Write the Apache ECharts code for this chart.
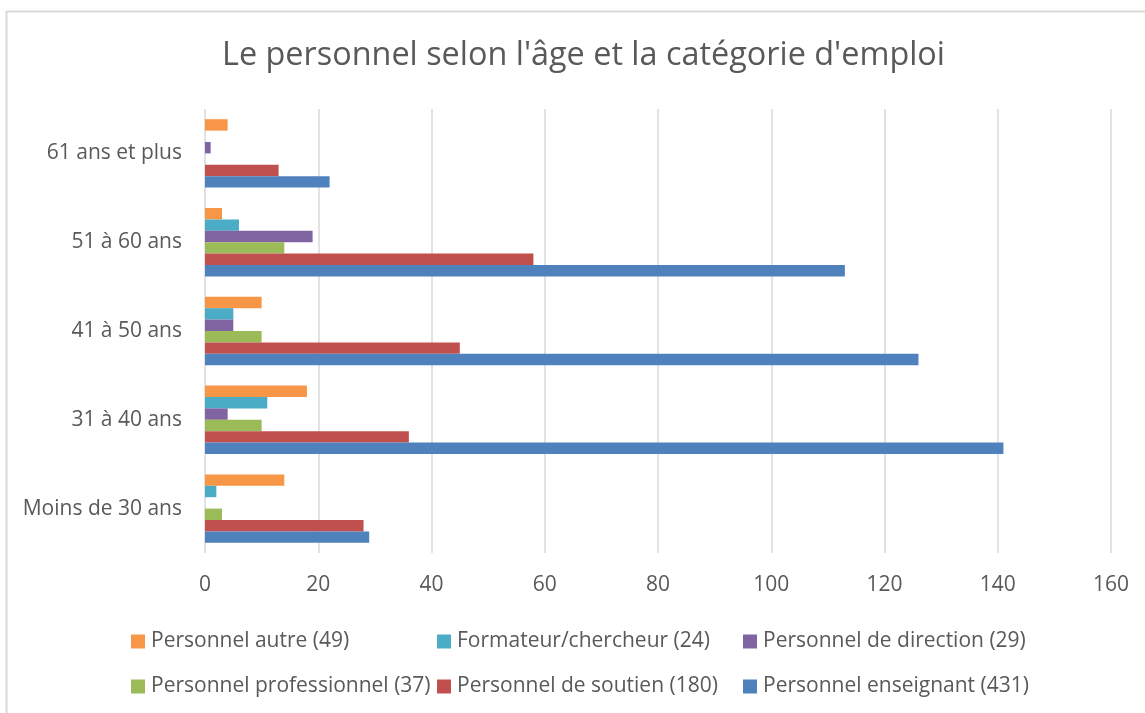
<!DOCTYPE html>
<html>
<head>
<meta charset="utf-8">
<script src="https://cdn.jsdelivr.net/npm/echarts@6/dist/echarts.min.js"></script>
<style>
html,body{margin:0;padding:0;background:#fff;}
#chart{width:1145px;height:713px;}
</style>
</head>
<body>
<div id="chart"></div>
<script>
const categories = ['Moins de 30 ans', '31 à 40 ans', '41 à 50 ans', '51 à 60 ans', '61 ans et plus'];
const seriesNames = [
  'Personnel autre (49)',
  'Formateur/chercheur (24)',
  'Personnel de direction (29)',
  'Personnel professionnel (37)',
  'Personnel de soutien (180)',
  'Personnel enseignant (431)'
];
const autre = [14, 18, 10, 3, 4];
const formateur = [2, 11, 5, 6, 0];
const direction = [0, 4, 5, 19, 1];
const professionnel = [3, 10, 10, 14, 0];
const soutien = [28, 36, 45, 58, 13];
const enseignant = [29, 141, 126, 113, 22];
const xTicks = [0, 20, 40, 60, 80, 100, 120, 140, 160];

const colors = ['#f79646', '#4bacc6', '#8064a2', '#9bbb59', '#c0504d', '#4f81bd'];
const seriesData = [autre, formateur, direction, professionnel, soutien, enseignant];
const FONT = '"Open Sans", sans-serif';
const TXT = '#595959';

// legend grid: [series index, left, top]
const legendPos = [
  [0, 126, 626], [1, 432, 626], [2, 738, 626],
  [3, 126, 671], [4, 432, 671], [5, 738, 671]
];

const chart = echarts.init(document.getElementById('chart'), null, {renderer: 'canvas'});
chart.setOption({
  animation: false,
  backgroundColor: '#fff',
  color: colors,
  title: {
    text: "Le personnel selon l'âge et la catégorie d'emploi",
    left: 217,
    top: 35,
    textStyle: {fontFamily: FONT, fontSize: 32.4, fontWeight: 'normal', color: TXT}
  },
  legend: legendPos.map(p => ({
    data: [seriesNames[p[0]]],
    left: p[1], top: p[2],
    itemWidth: 14, itemHeight: 14, itemGap: 0,
    icon: 'rect',
    textStyle: {fontFamily: FONT, fontSize: 21, color: TXT, padding: [0, 0, 0, 1]}
  })),
  grid: {left: 205, right: 34, top: 109, bottom: 160, containLabel: false},
  xAxis: {
    type: 'value', min: 0, max: 160, interval: 20,
    axisLine: {show: false}, axisTick: {show: false},
    splitLine: {lineStyle: {color: '#d9d9d9', width: 1.5}},
    axisLabel: {fontFamily: FONT, fontSize: 21, color: TXT, margin: 22,
      formatter: v => xTicks.includes(v) ? String(v) : ''}
  },
  yAxis: {
    type: 'category', data: categories,
    axisLine: {show: false}, axisTick: {show: false},
    axisLabel: {fontFamily: FONT, fontSize: 21, color: TXT, margin: 23}
  },
  series: seriesNames.map((n, i) => ({
    name: n, type: 'bar', data: seriesData[i],
    barGap: '0%', barCategoryGap: '23%',
    itemStyle: {color: colors[i]}
  })),
  graphic: [
    {type: 'line', shape: {x1: 6.5, y1: 11, x2: 6.5, y2: 713}, style: {stroke: '#d9d9d9', lineWidth: 2}, silent: true},
    {type: 'line', shape: {x1: 6, y1: 11.5, x2: 1145, y2: 11.5}, style: {stroke: '#d9d9d9', lineWidth: 2}, silent: true}
  ]
});
</script>
</body>
</html>
